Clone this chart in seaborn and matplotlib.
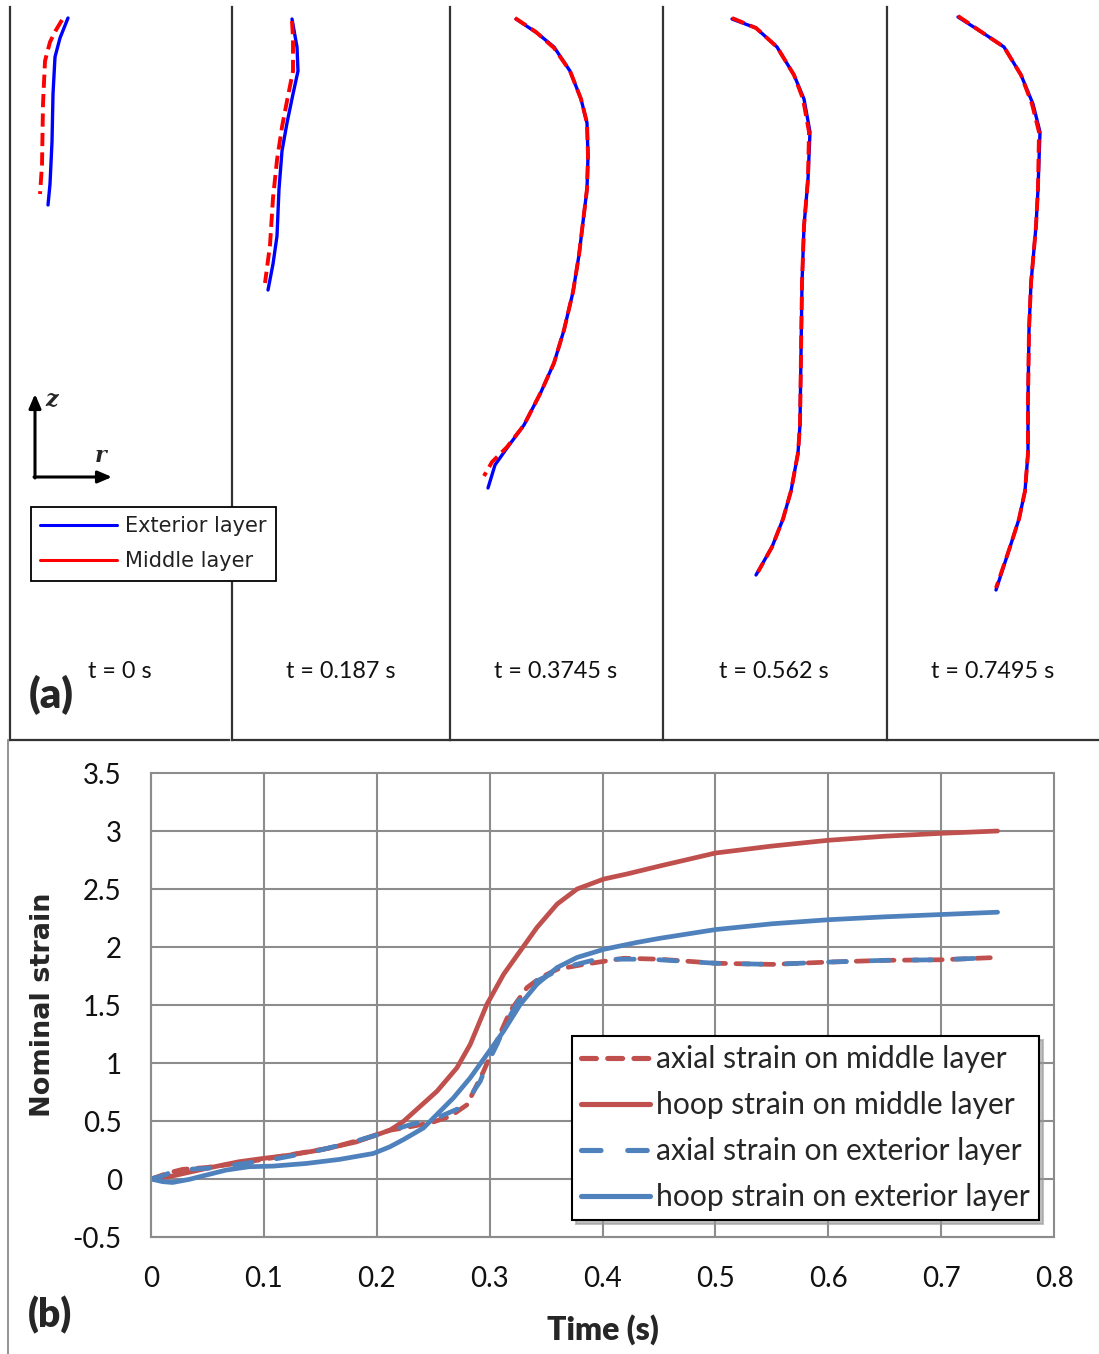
import numpy as np
import pandas as pd
import matplotlib
matplotlib.use("Agg")
import matplotlib.pyplot as plt
import seaborn as sns
from matplotlib.lines import Line2D

sns.set_theme(style="white")
plt.rcParams['font.family'] = ['Lato', 'DejaVu Sans']

# ---------------- Panel (a): deformed profiles (r, z) ----------------
panel_times = ["t = 0 s", "t = 0.187 s", "t = 0.3745 s", "t = 0.562 s", "t = 0.7495 s"]

ext_r_0 = [58, 54, 50, 45, 43, 42, 40, 38]
ext_z_0 = [722, 712, 702, 683, 646, 598, 556, 535]
mid_r_0 = [52, 46, 40, 35, 33, 32, 30]
mid_z_0 = [720, 710, 698, 679, 636, 575, 546]

ext_r_1 = [60, 65, 66, 61, 55, 50, 47, 45, 41, 36]
ext_z_1 = [721, 693, 669, 646, 617, 589, 551, 504, 476, 450]
mid_r_1 = [60, 61, 61, 55, 50, 45, 41, 38, 33]
mid_z_1 = [719, 702, 669, 639, 613, 580, 542, 495, 457]

ext_r_2 = [66, 87, 104, 120, 131, 137, 138, 137, 133, 129, 123, 114, 104, 91, 74, 57, 45, 38]
ext_z_2 = [721, 707, 693, 669, 641, 617, 584, 551, 518, 485, 448, 410, 377, 348, 315, 292, 275, 252]
mid_r_2 = [65, 86, 104, 120, 131, 137, 138, 137, 133, 129, 123, 114, 104, 91, 74, 57, 42, 34]
mid_z_2 = [722, 708, 692, 669, 641, 617, 584, 551, 518, 485, 448, 410, 377, 348, 315, 293, 278, 264]

ext_r_3 = [69, 93, 114, 131, 141, 147, 145, 141, 139, 138, 137, 135, 128, 120, 109, 93]
ext_z_3 = [721, 712, 693, 665, 641, 608, 561, 514, 457, 386, 315, 287, 249, 221, 193, 165]
mid_r_3 = [69, 93, 114, 131, 140, 146, 145, 141, 139, 138, 137, 135, 128, 120, 109, 95]
mid_z_3 = [722, 712, 693, 665, 641, 608, 561, 514, 457, 386, 315, 287, 249, 221, 193, 168]

ext_r_4 = [71, 96, 117, 134, 146, 153, 151, 149, 144, 142, 141, 141, 138, 132, 123, 109]
ext_z_4 = [723, 707, 693, 665, 636, 608, 551, 514, 457, 410, 339, 287, 249, 221, 193, 150]
mid_r_4 = [71, 96, 117, 134, 145, 152, 151, 149, 144, 142, 141, 141, 138, 132, 123, 109]
mid_z_4 = [724, 707, 693, 665, 636, 608, 551, 514, 457, 410, 339, 287, 249, 221, 193, 152]

ext_r = [ext_r_0, ext_r_1, ext_r_2, ext_r_3, ext_r_4]
ext_z = [ext_z_0, ext_z_1, ext_z_2, ext_z_3, ext_z_4]
mid_r = [mid_r_0, mid_r_1, mid_r_2, mid_r_3, mid_r_4]
mid_z = [mid_z_0, mid_z_1, mid_z_2, mid_z_3, mid_z_4]

# ---------------- Panel (b): strain histories ----------------
t_axial_mid = [0, 0.016, 0.028, 0.05, 0.08, 0.1, 0.13, 0.16, 0.19, 0.2115, 0.2237, 0.2473, 0.2651,
               0.28, 0.2888, 0.2947, 0.3036, 0.3183, 0.3331, 0.345, 0.36, 0.3834, 0.419, 0.45,
               0.5, 0.55, 0.6, 0.65, 0.7, 0.75]
axial_mid = [0, 0.054, 0.083, 0.1, 0.14, 0.17, 0.22, 0.27, 0.35, 0.42, 0.44, 0.483, 0.54,
             0.64, 0.814, 0.93, 1.13, 1.448, 1.65, 1.736, 1.808, 1.85, 1.903, 1.895,
             1.86, 1.85, 1.87, 1.885, 1.89, 1.91]

t_hoop_mid = [0, 0.019, 0.049, 0.078, 0.099, 0.123, 0.152, 0.182, 0.2115, 0.2237, 0.2533, 0.271,
              0.2828, 0.2976, 0.3124, 0.3272, 0.342, 0.3598, 0.3775, 0.4012, 0.4219, 0.4515,
              0.5, 0.55, 0.6, 0.65, 0.7, 0.75]
hoop_mid = [0, 0.026, 0.091, 0.149, 0.177, 0.206, 0.254, 0.32, 0.42, 0.497, 0.756, 0.958,
            1.16, 1.506, 1.765, 1.967, 2.169, 2.37, 2.5, 2.586, 2.63, 2.70,
            2.81, 2.87, 2.92, 2.955, 2.98, 3.0]

t_axial_ext = [0, 0.01, 0.019, 0.037, 0.049, 0.072, 0.108, 0.1435, 0.179, 0.2059, 0.2296, 0.2533,
               0.277, 0.2917, 0.2976, 0.3065, 0.3154, 0.3272, 0.339, 0.3568, 0.3716, 0.3953,
               0.43, 0.45, 0.5, 0.55, 0.6, 0.65, 0.7, 0.75]
axial_ext = [0, 0.026, 0.063, 0.086, 0.091, 0.12, 0.169, 0.234, 0.32, 0.396, 0.468, 0.526,
             0.627, 0.843, 0.987, 1.16, 1.36, 1.563, 1.693, 1.78, 1.837, 1.895,
             1.895, 1.89, 1.86, 1.85, 1.87, 1.885, 1.89, 1.91]

t_hoop_ext = [0, 0.0104, 0.019, 0.034, 0.049, 0.0666, 0.087, 0.108, 0.1376, 0.167, 0.197, 0.2115,
              0.2237, 0.2414, 0.268, 0.2828, 0.2976, 0.3124, 0.3272, 0.342, 0.3598, 0.3775,
              0.4012, 0.4308, 0.4515, 0.5, 0.55, 0.6, 0.65, 0.7, 0.75]
hoop_ext = [0, -0.023, -0.03, -0.003, 0.034, 0.077, 0.106, 0.111, 0.134, 0.169, 0.22, 0.277,
            0.34, 0.44, 0.70, 0.872, 1.073, 1.275, 1.506, 1.68, 1.823, 1.91,
            1.98, 2.04, 2.076, 2.15, 2.2, 2.235, 2.26, 2.28, 2.3]

series_labels = ["axial strain on middle layer", "hoop strain on middle layer",
                 "axial strain on exterior layer", "hoop strain on exterior layer"]
x_ticks = [0, 0.1, 0.2, 0.3, 0.4, 0.5, 0.6, 0.7, 0.8]
x_ticklabels = ["0", "0.1", "0.2", "0.3", "0.4", "0.5", "0.6", "0.7", "0.8"]
y_ticks = [-0.5, 0, 0.5, 1, 1.5, 2, 2.5, 3, 3.5]
y_ticklabels = ["-0.5", "0", "0.5", "1", "1.5", "2", "2.5", "3", "3.5"]

W, H = 1099, 1354
fig = plt.figure(figsize=(W / 100, H / 100), dpi=100)
fig.patch.set_facecolor("white")

def fx(px):
    return px / W

def fy(py):
    return 1 - py / H

# ---------- top panels ----------
panel_left = [10, 232, 450, 663, 887]
panel_right = [229, 450, 661, 885, 1099]
top_px, bot_px = 7, 740
frame_col = "#333333"
RED = "#FF0000"
BLUE = "#0000FF"
panel_axes = []
for i in range(5):
    wpx = panel_right[i] - panel_left[i]
    ax = fig.add_axes([fx(panel_left[i]), fy(bot_px), wpx / W, (bot_px - top_px) / H])
    ax.set_xlim(0, wpx)
    ax.set_ylim(0, bot_px - top_px)
    ax.set_facecolor("none")
    for s in ["top", "right"]:
        ax.spines[s].set_visible(False)
    for s in ["left", "bottom"]:
        ax.spines[s].set_color(frame_col)
        ax.spines[s].set_linewidth(1.6)
    ax.set_xticks([])
    ax.set_yticks([])
    sns.lineplot(x=ext_r[i], y=ext_z[i], ax=ax, sort=False, estimator=None,
                 color=BLUE, lw=2.4, legend=False)
    sns.lineplot(x=mid_r[i], y=mid_z[i], ax=ax, sort=False, estimator=None,
                 color=RED, lw=2.8, legend=False)
    ax.lines[-1].set_dashes((3.4, 1.6))
    ax.set_xlabel("")
    ax.set_ylabel("")
    ax.text(0.5 * wpx, 69, panel_times[i],
            ha="center", va="center", fontsize=16.8, color="#111111")
    panel_axes.append(ax)

ax0 = panel_axes[0]
# coordinate arrows
ax0.annotate("", xy=(25, 346), xytext=(25, 262),
             arrowprops=dict(arrowstyle="-|>,head_length=0.7,head_width=0.3", lw=2.2, color="black",
                             shrinkA=0, shrinkB=0))
ax0.annotate("", xy=(102, 263), xytext=(24, 263),
             arrowprops=dict(arrowstyle="-|>,head_length=0.7,head_width=0.3", lw=2.2, color="black",
                             shrinkA=0, shrinkB=0))
ax0.text(42, 340, "z", fontsize=16, fontstyle="italic", fontweight="bold",
         family=["DejaVu Serif"], ha="center", va="center")
ax0.text(91, 284, "r", fontsize=16, fontstyle="italic", fontweight="bold",
         family=["DejaVu Serif"], ha="center", va="center")
ax0.text(41, 45, "(a)", fontsize=30, fontweight="heavy", ha="center", va="center")

top_handles = [Line2D([], [], color=BLUE, lw=2.2), Line2D([], [], color=RED, lw=2.2)]
leg_top = fig.legend(top_handles, ["Exterior layer", "Middle layer"],
                     loc="upper left", bbox_to_anchor=(fx(31), fy(507)),
                     frameon=True, fancybox=False, edgecolor="black", framealpha=1,
                     prop={"family": "DejaVu Sans", "size": 15},
                     handlelength=3.7, handletextpad=0.38, labelspacing=0.72,
                     borderpad=0.45, borderaxespad=0)
leg_top.get_frame().set_linewidth(1.3)
for txt in leg_top.get_texts():
    txt.set_color("#222222")
leg_top.set_zorder(10)

# ---------- bottom frame ----------
axf = fig.add_axes([fx(8), 0, 0.5, fy(740)])
axf.set_facecolor("none")
for s in ["top", "right", "bottom"]:
    axf.spines[s].set_visible(False)
axf.spines["left"].set_color("#8a8a8a")
axf.spines["left"].set_linewidth(1.3)
axf.set_xticks([])
axf.set_yticks([])

# ---------- bottom chart ----------
axb = fig.add_axes([fx(151), fy(1237), (1054 - 151) / W, (1237 - 773) / H])
axb.set_facecolor("none")
C_RED = "#C0504D"
C_BLUE = "#4F81BD"
LW = 3.4
sns.lineplot(x=t_axial_mid, y=axial_mid, ax=axb, sort=False, estimator=None,
             color=C_RED, lw=LW, label=series_labels[0], legend=False)
axb.lines[-1].set_dashes((2.9, 2.2))
axb.lines[-1].set_dash_capstyle("round")
sns.lineplot(x=t_hoop_mid, y=hoop_mid, ax=axb, sort=False, estimator=None,
             color=C_RED, lw=LW, label=series_labels[1], legend=False)
sns.lineplot(x=t_axial_ext, y=axial_ext, ax=axb, sort=False, estimator=None,
             color=C_BLUE, lw=LW, label=series_labels[2], legend=False)
axb.lines[-1].set_dashes((3.8, 5.2))
axb.lines[-1].set_dash_capstyle("round")
sns.lineplot(x=t_hoop_ext, y=hoop_ext, ax=axb, sort=False, estimator=None,
             color=C_BLUE, lw=LW, label=series_labels[3], legend=False)
for ln in axb.lines:
    ln.set_solid_capstyle("round")
    ln.set_solid_joinstyle("round")
    ln.set_dash_joinstyle("round")

axb.set_xlim(0, 0.8)
axb.set_ylim(-0.5, 3.5)
axb.set_xticks(x_ticks)
axb.set_xticklabels(x_ticklabels)
axb.set_yticks(y_ticks)
axb.set_yticklabels(y_ticklabels)
grid_col = "#8c8c8c"
axb.grid(True, color=grid_col, lw=1.5)
axb.set_axisbelow(True)
for s in ["top", "right"]:
    axb.spines[s].set_visible(False)
for s in ["left", "bottom"]:
    axb.spines[s].set_color(grid_col)
    axb.spines[s].set_linewidth(1.5)
axb.tick_params(axis="both", which="major", direction="out", length=7, width=1.5,
                color=grid_col, labelsize=20, labelcolor="#111111")
axb.tick_params(axis="y", pad=14)
axb.tick_params(axis="x", pad=14)
axb.set_xlabel("Time (s)", fontsize=23, fontweight="heavy", labelpad=16)
axb.set_ylabel("Nominal strain", fontsize=19.5, fontweight="bold", family=["DejaVu Sans"], labelpad=12)
for gl in axb.get_xgridlines() + axb.get_ygridlines():
    gl.set_clip_on(False)

h, l = axb.get_legend_handles_labels()
leg = axb.legend(h, l, loc="upper right", bbox_to_anchor=((1039 - 151) / 903, (1237 - 1036) / 464),
                 frameon=True, fancybox=False, shadow={"ox": 3, "oy": -3, "color": "#999999", "alpha": 0.6},
                 edgecolor="black", framealpha=1, fontsize=21.6,
                 handlelength=2.3, handletextpad=0.22, labelspacing=0.6, borderpad=0.3,
                 borderaxespad=0)
leg.get_frame().set_linewidth(1.5)
for lh in leg.get_lines():
    lh.set_linewidth(LW + 0.3)

fig.text(fx(50), fy(1315), "(b)", fontsize=28, fontweight="heavy", ha="center", va="center")

fig.savefig("out.png", dpi=100, facecolor="white")
